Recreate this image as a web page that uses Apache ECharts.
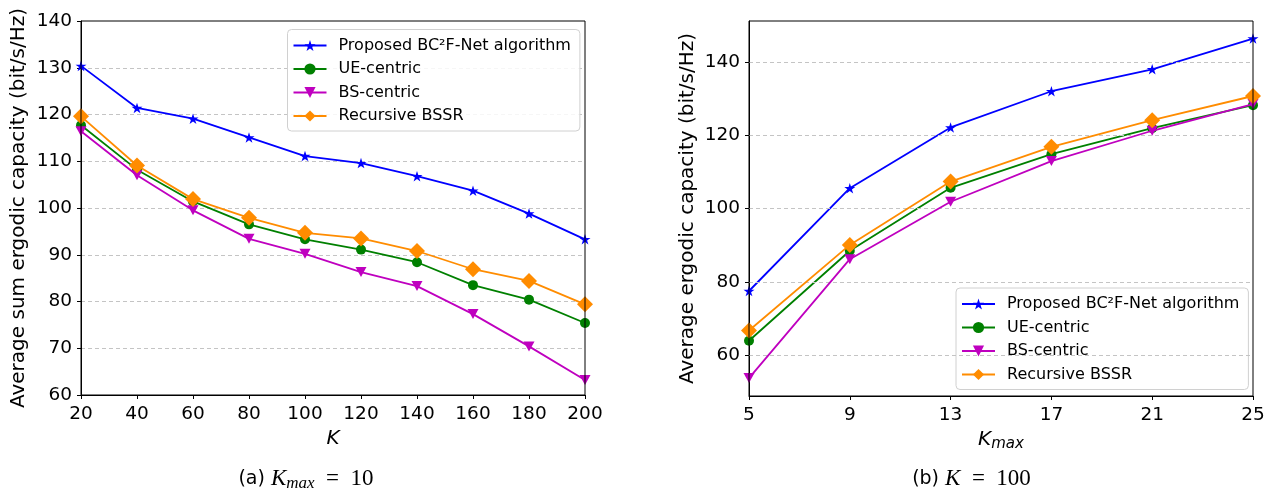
<!DOCTYPE html>
<html>
<head>
<meta charset="utf-8">
<script src="https://cdn.jsdelivr.net/npm/echarts@6/dist/echarts.min.js"></script>
<style>
html,body{margin:0;padding:0;background:#fff;}
#chart{width:1273px;height:492px;}
</style>
</head>
<body>
<div id="chart"></div>
<script>
// ---- data ----
const seriesNames = ['Proposed BC\u00b2F-Net algorithm', 'UE-centric', 'BS-centric', 'Recursive BSSR'];

const kValues = [20, 40, 60, 80, 100, 120, 140, 160, 180, 200];
const leftProposed = [130.4, 121.4, 119.1, 115.1, 111.1, 109.6, 106.8, 103.7, 98.8, 93.3];
const leftUE       = [117.7, 108.2, 101.4, 96.5, 93.3, 91.1, 88.4, 83.5, 80.4, 75.4];
const leftBS       = [116.4, 107.0, 99.5, 93.4, 90.2, 86.3, 83.3, 77.3, 70.4, 63.2];
const leftBSSR     = [119.6, 109.1, 101.9, 97.9, 94.7, 93.5, 90.8, 86.9, 84.4, 79.4];

const kmaxValues = [5, 9, 13, 17, 21, 25];
const rightProposed = [77.5, 105.6, 122.2, 132.1, 138.1, 146.5];
const rightUE       = [63.9, 88.5, 105.7, 114.9, 122.0, 128.3];
const rightBS       = [53.7, 86.2, 101.9, 113.0, 121.3, 128.6];
const rightBSSR     = [66.7, 90.1, 107.4, 116.9, 124.2, 130.8];

const rightYTicks = [60, 80, 100, 120, 140];

// ---- styles ----
const FONT = 'DejaVu Sans';
const colors = ['#0000ff', '#008000', '#bf00bf', '#ff8c00'];
const starPath = 'path://M100,0 L122.45,69.1 L195.1,69.1 L136.33,111.8 L158.78,180.9 L100,138.2 L41.22,180.9 L63.67,111.8 L4.9,69.1 L77.55,69.1 Z';
const symbols = [
  {symbol: starPath, symbolSize: [11, 10.5], symbolRotate: 0},
  {symbol: 'circle', symbolSize: 10, symbolRotate: 0},
  {symbol: 'triangle', symbolSize: [11, 10], symbolRotate: 180},
  {symbol: 'diamond', symbolSize: [16, 16], symbolRotate: 0}
];

function zip(xs, ys) { return xs.map((x, i) => [x, ys[i]]); }

function mkSeries(idx, xs, ys, axisIdx) {
  return {
    name: seriesNames[idx],
    type: 'line',
    xAxisIndex: axisIdx,
    yAxisIndex: axisIdx,
    data: zip(xs, ys),
    symbol: symbols[idx].symbol,
    symbolSize: symbols[idx].symbolSize,
    symbolRotate: symbols[idx].symbolRotate,
    showAllSymbol: true,
    color: colors[idx],
    lineStyle: {color: colors[idx], width: 1.8},
    itemStyle: {color: colors[idx], borderWidth: 0},
    emphasis: {disabled: true},
    animation: false,
    z: 3 + idx
  };
}

const axisCommon = {
  axisLine: {show: true, onZero: false, lineStyle: {color: '#000', width: 1}},
  axisTick: {show: true, inside: false, length: 4, lineStyle: {color: '#000', width: 1}},
  axisLabel: {color: '#000', fontSize: 18.5, fontFamily: FONT},
  nameTextStyle: {color: '#000', fontSize: 20, fontFamily: FONT}
};
const gridLine = {show: true, showMaxLine: false, showMinLine: true, lineStyle: {color: '#c4c4c4', width: 1, type: [4, 3]}};

const legendCommon = {
  orient: 'vertical',
  data: seriesNames,
  itemWidth: 33,
  itemHeight: 14,
  itemGap: 7.5,
  padding: [8, 9, 7, 5],
  backgroundColor: 'rgba(255,255,255,0.85)',
  borderColor: '#d0d0d0',
  borderWidth: 1,
  borderRadius: 4,
  selectedMode: false,
  textStyle: {color: '#000', fontSize: 16, fontFamily: FONT, padding: [0, 0, 0, 7]}
};

const captionRich = {
  a: {fontFamily: FONT, fontSize: 19, color: '#000'},
  k: {fontFamily: 'Liberation Serif', fontStyle: 'italic', fontSize: 23, color: '#000'},
  s: {fontFamily: 'Liberation Serif', fontStyle: 'italic', fontSize: 17, color: '#000', padding: [9, 0, 0, 0]},
  e: {fontFamily: 'Liberation Serif', fontSize: 23, color: '#000'}
};

const option = {
  backgroundColor: '#fff',
  animation: false,
  grid: [
    {left: 81, top: 21, width: 504, height: 374, show: true, borderColor: '#000', borderWidth: 1, backgroundColor: 'transparent', z: 10},
    {left: 749, top: 21, width: 504, height: 375, show: true, borderColor: '#000', borderWidth: 1, backgroundColor: 'transparent', z: 10}
  ],
  xAxis: [
    Object.assign({}, axisCommon, {
      type: 'value', gridIndex: 0, min: 20, max: 200, interval: 20,
      splitLine: {show: false},
      axisLabel: Object.assign({}, axisCommon.axisLabel, {margin: 10}),
      name: 'K', nameLocation: 'middle', nameGap: 31,
      nameTextStyle: Object.assign({}, axisCommon.nameTextStyle, {fontStyle: 'italic'})
    }),
    Object.assign({}, axisCommon, {
      type: 'value', gridIndex: 1, min: 5, max: 25, interval: 4,
      splitLine: {show: false},
      axisLabel: Object.assign({}, axisCommon.axisLabel, {margin: 10}),
      name: '{k|K}{s|max}', nameLocation: 'middle', nameGap: 31,
      nameTextStyle: Object.assign({}, axisCommon.nameTextStyle, {
        rich: {
          k: {fontFamily: FONT, fontStyle: 'italic', fontSize: 20, color: '#000'},
          s: {fontFamily: FONT, fontStyle: 'italic', fontSize: 15, color: '#000', padding: [8, 0, 0, 0]}
        }
      })
    })
  ],
  yAxis: [
    Object.assign({}, axisCommon, {
      type: 'value', gridIndex: 0, min: 60, max: 140, interval: 10,
      splitLine: gridLine,
      axisLabel: Object.assign({}, axisCommon.axisLabel, {margin: 9}),
      name: 'Average sum ergodic capacity (bit/s/Hz)', nameLocation: 'middle', nameGap: 52
    }),
    Object.assign({}, axisCommon, {
      type: 'value', gridIndex: 1, min: 48.8, max: 151.3,
      splitLine: {show: false},
      axisTick: Object.assign({}, axisCommon.axisTick, {customValues: rightYTicks}),
      axisLabel: Object.assign({}, axisCommon.axisLabel, {margin: 9, customValues: rightYTicks}),
      name: 'Average ergodic capacity (bit/s/Hz)', nameLocation: 'middle', nameGap: 51
    })
  ],
  legend: [
    Object.assign({}, legendCommon, {left: 287.5, top: 29.5}),
    Object.assign({}, legendCommon, {left: 956, top: 288})
  ],
  series: [
    {
      type: 'line', xAxisIndex: 1, yAxisIndex: 1, data: [], z: 1, silent: true,
      markLine: {
        silent: true, symbol: ['none', 'none'], label: {show: false}, animation: false,
        lineStyle: {color: '#c4c4c4', width: 1, type: [4, 3]},
        emphasis: {disabled: true},
        data: rightYTicks.map(v => ({yAxis: v}))
      }
    },
    mkSeries(0, kValues, leftProposed, 0),
    mkSeries(1, kValues, leftUE, 0),
    mkSeries(2, kValues, leftBS, 0),
    mkSeries(3, kValues, leftBSSR, 0),
    mkSeries(0, kmaxValues, rightProposed, 1),
    mkSeries(1, kmaxValues, rightUE, 1),
    mkSeries(2, kmaxValues, rightBS, 1),
    mkSeries(3, kmaxValues, rightBSSR, 1)
  ],
  graphic: [
    {type: 'text', x: 306, y: 479, style: {text: '{a|(a) }{k|K}{s|max}{e|\u2002=\u200210}', rich: captionRich, align: 'center', verticalAlign: 'middle'}},
    {type: 'text', x: 971.5, y: 479, style: {text: '{a|(b) }{k|K}{e|\u2002=\u2002100}', rich: captionRich, align: 'center', verticalAlign: 'middle'}}
  ]
};

const chart = echarts.init(document.getElementById('chart'), null, {renderer: 'canvas'});
chart.setOption(option);
</script>
</body>
</html>
